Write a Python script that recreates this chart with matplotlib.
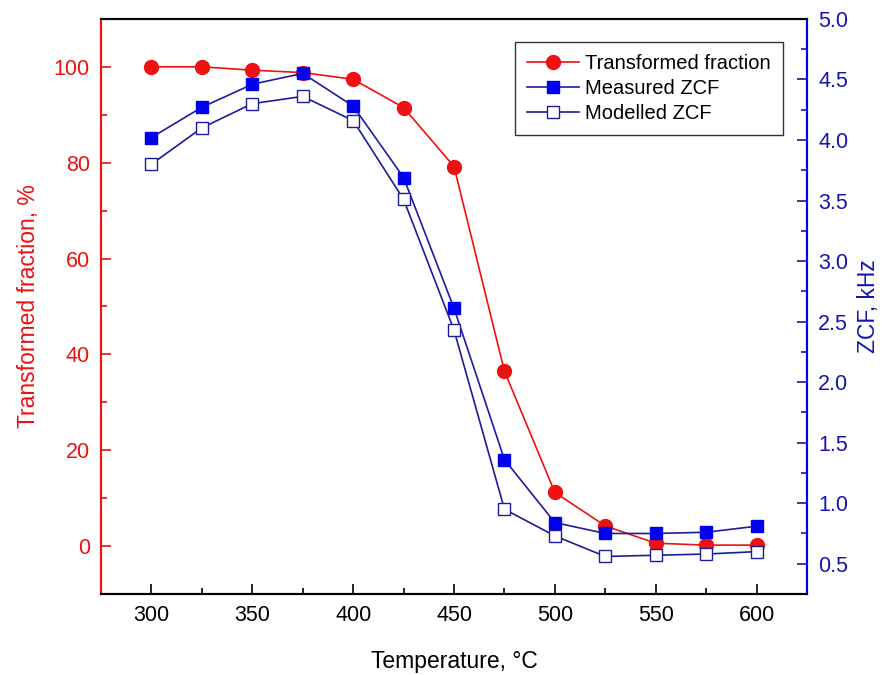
import matplotlib.pyplot as plt
from matplotlib.ticker import MultipleLocator

plt.rcParams['font.family'] = ['Liberation Sans', 'DejaVu Sans']

temperature = [300, 325, 350, 375, 400, 425, 450, 475, 500, 525, 550, 575, 600]
transformed = [100, 100, 99.3, 98.8, 97.4, 91.5, 79.2, 36.5, 11.2, 4.2, 0.6, 0.2, 0.2]
measured_zcf = [4.02, 4.27, 4.46, 4.55, 4.28, 3.69, 2.61, 1.36, 0.84, 0.75, 0.75, 0.76, 0.81]
modelled_zcf = [3.80, 4.10, 4.30, 4.36, 4.16, 3.51, 2.43, 0.95, 0.73, 0.56, 0.57, 0.58, 0.60]

red = '#ee1111'
blue = '#0000ee'
navy = '#1c1c9c'
lblue = '#1515b5'

fig = plt.figure(figsize=(8.82, 6.75), dpi=100)
ax = fig.add_axes([0.1145, 0.12, 0.8005, 0.852])
ax2 = ax.twinx()

l1, = ax.plot(temperature, transformed, color=red, lw=1.2, marker='o', ms=10,
              mfc=red, mec=red, label='Transformed fraction', zorder=3)
l2, = ax2.plot(temperature, measured_zcf, color=navy, lw=1.2, marker='s', ms=8,
               mfc=blue, mec=blue, label='Measured ZCF', zorder=3)
l3, = ax2.plot(temperature, modelled_zcf, color=navy, lw=1.2, marker='s', ms=8,
               mfc='white', mec=navy, mew=1, label='Modelled ZCF', zorder=3)

ax.set_xlim(275, 625)
ax.set_ylim(-10, 110)
ax2.set_ylim(0.25, 5.0)

ax.xaxis.set_major_locator(MultipleLocator(50))
ax.xaxis.set_minor_locator(MultipleLocator(25))
ax.yaxis.set_major_locator(MultipleLocator(20))
ax.yaxis.set_minor_locator(MultipleLocator(10))
ax2.yaxis.set_major_locator(MultipleLocator(0.5))
ax2.yaxis.set_minor_locator(MultipleLocator(0.25))
ax2.yaxis.set_major_formatter(plt.FormatStrFormatter('%.1f'))

ax.tick_params(axis='x', which='both', direction='in', top=False, labelsize=15.5, pad=8)
ax.tick_params(axis='x', which='major', length=7, width=1.2)
ax.tick_params(axis='x', which='minor', length=4, width=1.2)
ax.tick_params(axis='y', which='both', direction='in', colors=red, labelsize=15.5, pad=8)
ax.tick_params(axis='y', which='major', length=7, width=1.2)
ax.tick_params(axis='y', which='minor', length=4, width=1.2)
ax2.tick_params(axis='y', which='both', direction='in', colors=lblue, labelsize=15.5, pad=8)
ax2.tick_params(axis='y', which='major', length=7, width=1.2)
ax2.tick_params(axis='y', which='minor', length=4, width=1.2)

ax.spines['left'].set_color(red)
ax2.spines['left'].set_color(red)
ax2.spines['right'].set_color(blue)
for s in ('left', 'right', 'top', 'bottom'):
    ax.spines[s].set_linewidth(1.5)
    ax2.spines[s].set_linewidth(1.5)

ax.set_xlabel('Temperature, °C', fontsize=16.5, labelpad=17)
ax.set_ylabel('Transformed fraction, %', fontsize=16.5, color=red, labelpad=10)
ax2.set_ylabel('ZCF, kHz', fontsize=16.5, color=lblue, labelpad=6)

leg = ax2.legend(handles=[l1, l2, l3], loc='upper right', bbox_to_anchor=(0.966, 0.96),
                 borderaxespad=0, fontsize=14.5, frameon=True, fancybox=False,
                 edgecolor='black', handlelength=2.6, borderpad=0.6,
                 labelspacing=0.3, handletextpad=0.3)
leg.get_frame().set_linewidth(1.0)

fig.savefig('out.png', dpi=100)
